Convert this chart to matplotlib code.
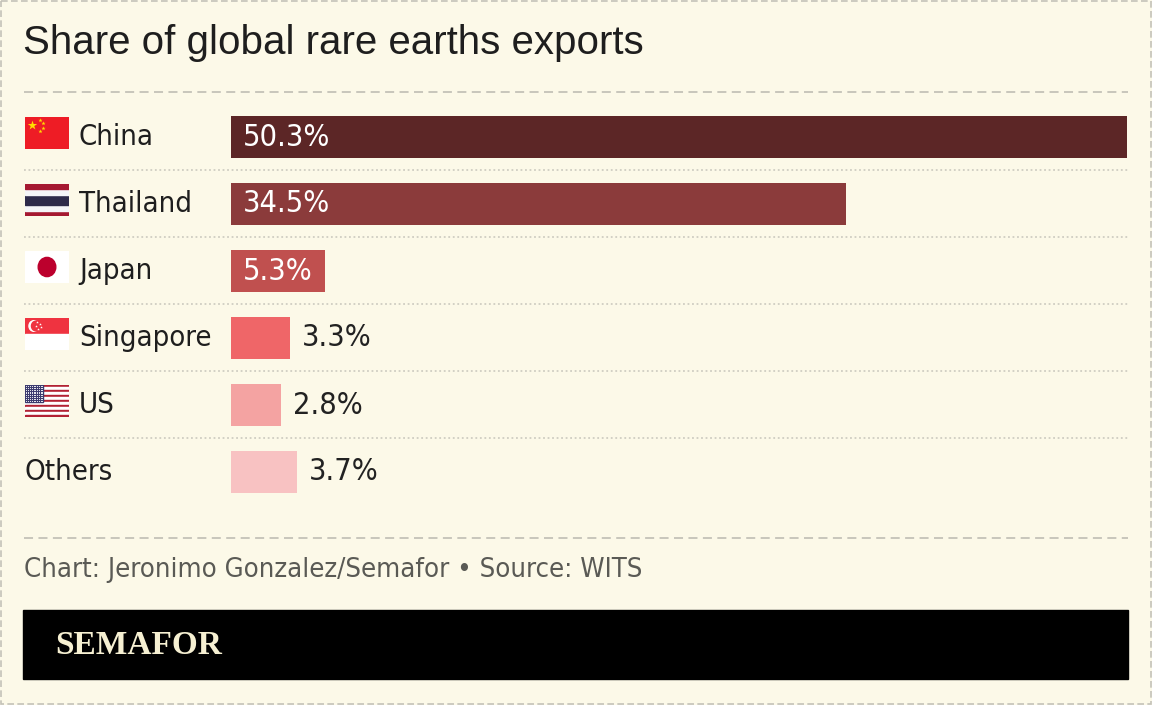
import matplotlib
matplotlib.use('Agg')
import matplotlib.pyplot as plt
import matplotlib.transforms as mtransforms
from matplotlib.patches import Rectangle, Circle

# Data
countries = ['China', 'Thailand', 'Japan', 'Singapore', 'US', 'Others']
shares = [50.3, 34.5, 5.3, 3.3, 2.8, 3.7]
bar_colors = ['#5c2626', '#8b3b3b', '#c0504f', '#ef6668', '#f4a3a2', '#f8c2c2']
title = 'Share of global rare earths exports'
credit = 'Chart: Jeronimo Gonzalez/Semafor \u2022 Source: WITS'

BG = '#fcf9e8'
W, H = 1152, 705
NARROW = dict(family='DejaVu Sans', stretch='condensed')

fig = plt.figure(figsize=(W / 100, H / 100), dpi=100, facecolor=BG)

# overlay axes in pixel coordinates for the frame, rules and footer
over = fig.add_axes([0, 0, 1, 1])
over.set_xlim(0, W)
over.set_ylim(H, 0)
over.axis('off')

# outer dashed frame
over.add_patch(Rectangle((1, 1), W - 2, H - 2, fill=False, ec='#c4c2b8',
                         lw=1.2, ls=(0, (4, 2))))
# title + rule
over.text(23, 43, title, fontsize=29, family='Liberation Sans', color='#1e1e1e',
          va='center', ha='left')
over.plot([24, 1128], [92, 92], color='#c4c2b8', lw=1.3, ls=(0, (5, 3)))

# row separators
for i in range(len(countries) - 1):
    yy = 170 + 67 * i
    over.plot([24, 1128], [yy, yy], color='#cfcdc2', lw=1.3, ls=(0, (1, 1.5)))

# footer
over.plot([24, 1128], [538, 538], color='#c4c2b8', lw=1.3, ls=(0, (5, 3)))
over.text(24, 570, credit, fontsize=19.7, color='#5a5a55',
          va='center', ha='left', **NARROW)
over.add_patch(Rectangle((23, 610), 1105, 69, color='#000000'))
over.text(55, 646, 'SEMAFOR', fontsize=24, family='Liberation Serif',
          weight='bold', color='#f6f0d2', va='center', ha='left')

# bar axes: 0..50.3 maps to x pixels 231..1127, rows 67px apart
ax = fig.add_axes([231 / W, 1 - 505.5 / H, 896 / W, 402 / H])
ax.patch.set_alpha(0)
ypos = list(range(len(countries)))
ax.barh(ypos, shares, height=42 / 67, color=bar_colors)
ax.set_xlim(0, max(shares))
ax.set_ylim(len(countries) - 0.5, -0.5)
ax.axis('off')

shift = ax.transData + mtransforms.ScaledTranslation(12 / 100, 0, fig.dpi_scale_trans)
for y, v in zip(ypos, shares):
    if v > 5:
        ax.text(0, y, f'{v}%', transform=shift, color='white', fontsize=22,
                va='center', ha='left', **NARROW)
    else:
        ax.text(v, y, f'{v}%', transform=shift, color='#222222', fontsize=22,
                va='center', ha='left', **NARROW)

# country names
blend = mtransforms.blended_transform_factory(fig.transFigure, ax.transData)
for y, name in zip(ypos, countries):
    xname = 79 / W if name != 'Others' else 25 / W
    ax.text(xname, y, name, transform=blend, fontsize=21, color='#1e1e1e',
            va='center', ha='left', **NARROW)


# flags
def flag_axes(row):
    cy = 137 + 67 * row - 4
    fa = fig.add_axes([25 / W, 1 - (cy + 16) / H, 44 / W, 32 / H])
    fa.set_xlim(0, 30)
    fa.set_ylim(0, 20)
    fa.axis('off')
    return fa


fa = flag_axes(0)
fa.add_patch(Rectangle((0, 0), 30, 20, color='#ee1c25'))
fa.scatter([5], [15], marker='*', s=50, color='#ffde00', lw=0)
fa.scatter([10, 12, 12, 10], [18, 16, 13, 11], marker='*', s=10, color='#ffde00', lw=0)

fa = flag_axes(1)
stripes = [('#a51931', 0, 3.33), ('#f4f5f8', 3.33, 3.33), ('#2d2a4a', 6.67, 6.66),
           ('#f4f5f8', 13.33, 3.33), ('#a51931', 16.67, 3.33)]
for c, y0, hgt in stripes:
    fa.add_patch(Rectangle((0, y0), 30, hgt, color=c))

fa = flag_axes(2)
fa.add_patch(Rectangle((0, 0), 30, 20, color='#ffffff'))
fa.add_patch(Circle((15, 10), 6, color='#bc002d'))

fa = flag_axes(3)
fa.add_patch(Rectangle((0, 10), 30, 10, color='#ef3340'))
fa.add_patch(Rectangle((0, 0), 30, 10, color='#ffffff'))
fa.add_patch(Circle((6, 15), 3.3, color='#ffffff'))
fa.add_patch(Circle((7.4, 15), 3.0, color='#ef3340'))
fa.scatter([8.2, 10.2, 11.0, 8.9, 7.5], [17.4, 16.4, 14.2, 13.2, 15.2], marker='*',
           s=4, color='white', lw=0)

fa = flag_axes(4)
for k in range(13):
    fa.add_patch(Rectangle((0, 20 - (k + 1) * 20 / 13), 30, 20 / 13,
                           color='#b22234' if k % 2 == 0 else '#ffffff'))
fa.add_patch(Rectangle((0, 20 - 7 * 20 / 13), 12, 7 * 20 / 13, color='#3c3b6e'))
sx = [1 + 1.2 * i for i in range(10)]
sy = [10.3 + 1.1 * j for j in range(9)]
fa.scatter([a for a in sx for b in sy], [b for a in sx for b in sy], s=0.6, color='white', lw=0)

fig.savefig('out.png', dpi=100, facecolor=BG)
